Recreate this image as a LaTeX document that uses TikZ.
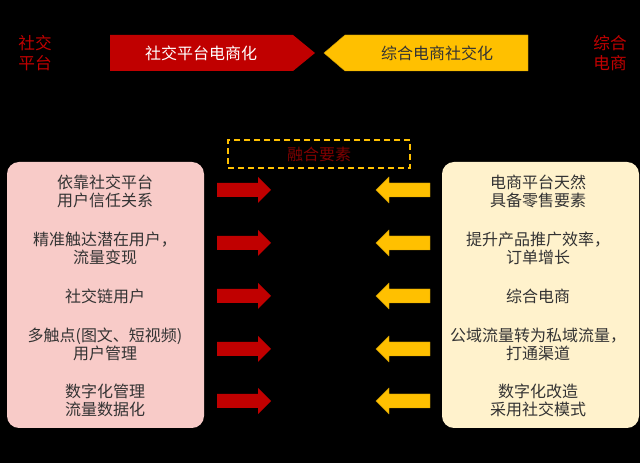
\documentclass[tikz,border=0pt]{standalone}
\usepackage{fontspec}
\newfontfamily\cjk{Noto Sans CJK SC}
\usetikzlibrary{positioning}

\definecolor{deepred}{HTML}{C00000}
\definecolor{gold}{HTML}{FFC000}
\definecolor{pinkbg}{HTML}{F8CBC8}
\definecolor{creambg}{HTML}{FFF2CC}
\definecolor{darkred}{HTML}{800000}
\definecolor{inktext}{HTML}{333333}

\begin{document}
\begin{tikzpicture}[
        x=0.75pt, y=-0.75pt,
        every node/.style={font=\cjk\fontsize{12}{13.5}\selectfont, inner sep=0pt},
        side/.style={text=deepred, align=center, font=\cjk\fontsize{12.5}{15}\selectfont},
        panel/.style={rounded corners=9pt, minimum width=147.75pt, minimum height=199.5pt},
        item/.style={text=inktext, align=center},
        redarrow/.style={fill=deepred},
        goldarrow/.style={fill=gold, draw=gold!80!black, line width=0.3pt},
    ]
    % background
    \fill[black] (0,0) rectangle (640,463);
    \useasboundingbox (0,0) rectangle (640,463);

    % banners
    \fill[deepred] (110,35) -- (293,35) -- (315,53) -- (293,71) -- (110,71) -- cycle;
    \filldraw[fill=gold, draw=gold!80!black, line width=0.3pt]
        (528,35) -- (345,35) -- (324,53) -- (345,71) -- (528,71) -- cycle;
    \node[text=white] (socialtitle) at (201,53) {社交平台电商化};
    \node[text=inktext] (ecomtitle) at (437,53) {综合电商社交化};
    \node[side] (socialside) at (35,53) {社交\\平台};
    \node[side] (ecomside) at (610,53) {综合\\电商};

    % fusion label
    \node[draw=gold, dashed, dash pattern=on 4.5pt off 3pt, line width=0.9pt,
          minimum width=136.5pt, minimum height=21pt, text=darkred] (fusion) at (319,154) {融合要素};

    % panels
    \node[panel, fill=pinkbg] (socialpanel) at (105.5,295) {};
    \node[panel, fill=creambg] (ecompanel) at (540.5,295) {};

    \node[item] (s1) at (105,191) {依靠社交平台\\用户信任关系};
    \node[item] (s2) at (105,248) {精准触达潜在用户，\\流量变现};
    \node[item] (s3) at (105,296) {社交链用户};
    \node[item] (s4) at (105,344) {多触点(图文、短视频)\\用户管理};
    \node[item] (s5) at (105,400) {数字化管理\\流量数据化};

    \node[item] (e1) at (538,191) {电商平台天然\\具备零售要素};
    \node[item] (e2) at (538,248) {提升产品推广效率，\\订单增长};
    \node[item] (e3) at (538,296) {综合电商};
    \node[item] (e4) at (538,344) {公域流量转为私域流量，\\打通渠道};
    \node[item] (e5) at (538,400) {数字化改造\\采用社交模式};

    % arrows
    \foreach \y in {190,243,296,349,401} {
        \fill[redarrow] (217,\y-7) -- (258,\y-7) -- (258,\y-13) -- (271,\y)
            -- (258,\y+13) -- (258,\y+7) -- (217,\y+7) -- cycle;
        \filldraw[goldarrow] (430,\y-7) -- (389,\y-7) -- (389,\y-13) -- (376,\y)
            -- (389,\y+13) -- (389,\y+7) -- (430,\y+7) -- cycle;
    }
\end{tikzpicture}
\end{document}
